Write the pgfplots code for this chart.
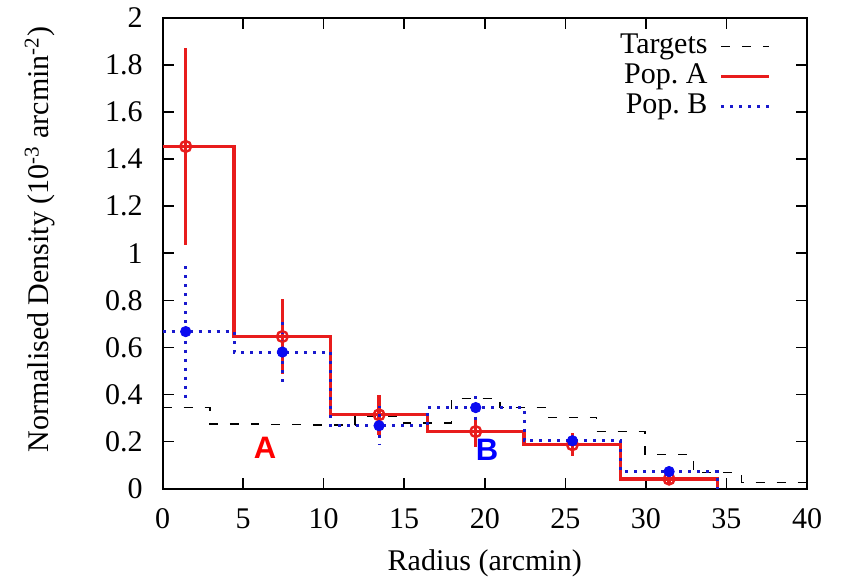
\documentclass[border=0pt]{standalone}
\usepackage{fontspec}
\setmainfont{Liberation Serif}
\newfontfamily\timesfont{Liberation Serif}
\newfontfamily\arialfont{Liberation Sans}
\usepackage{pgfplots}
\pgfplotsset{compat=1.18}
\usepackage{pgfplotstable}

\definecolor{popA}{RGB}{232,28,28}
\definecolor{popB}{RGB}{25,25,205}
\definecolor{popBmark}{RGB}{10,10,240}

% Target density, 3 arcmin bins (left edge, value)
\pgfplotstableread{
x y
0     0.345
2.94  0.274
5.94  0.272
8.94  0.270
11.94 0.307
14.94 0.278
17.94 0.383
20.94 0.345
23.94 0.303
26.94 0.243
29.94 0.144
32.94 0.067
35.94 0.026
40    0.026
}\targets

% Population A, 6 arcmin bins (left edge, value)
\pgfplotstableread{
x y
0     1.454
4.44  0.646
10.44 0.313
16.44 0.242
22.44 0.186
28.44 0.040
34.44 0.040
34.44 0
}\popAsteps

\pgfplotstableread{
x y ey
1.44  1.454 0.420
7.44  0.646 0.160
13.44 0.313 0.085
19.44 0.242 0.064
25.44 0.186 0.048
31.44 0.040 0.020
}\popApts

% Population B, 6 arcmin bins (left edge, value)
\pgfplotstableread{
x y
0     0.667
4.44  0.580
10.44 0.267
16.44 0.344
22.44 0.203
28.44 0.072
34.44 0.072
34.44 0
}\popBsteps

\pgfplotstableread{
x y ey
1.44  0.667 0.290
7.44  0.580 0.145
13.44 0.267 0.082
19.44 0.344 0.072
25.44 0.203 0.033
31.44 0.072 0.015
}\popBpts

\newcommand\txtfont{\timesfont\fontsize{15}{18}\selectfont}

\begin{document}
\begin{tikzpicture}
\begin{axis}[
  name=ax,
  scale only axis,
  width=322.25pt, height=235.25pt,
  xmin=0, xmax=40, ymin=0, ymax=2,
  enlargelimits=false,
  xtick={0,5,...,40},
  ytick={0,0.2,...,2.01},
  yticklabels={0,0.2,0.4,0.6,0.8,1,1.2,1.4,1.6,1.8,2},
  tick align=inside,
  xtick pos=both, ytick pos=both,
  major tick length=5.5pt,
  axis line style={line width=1pt},
  tick style={line width=0.8pt, black},
  /pgf/number format/assume math mode=true,
  tick label style={font=\txtfont},
  yticklabel style={anchor=east, inner sep=0pt, xshift=-9.75pt},
  xticklabel style={anchor=north, inner sep=0pt, yshift=-9.75pt},
  label style={font=\txtfont},
  xlabel={Radius (arcmin)},
  ylabel={Normalised Density (10\textsuperscript{-3} arcmin\textsuperscript{-2})},
  xlabel style={at={(axis description cs:0.5,-0.158)}, anchor=center},
  ylabel style={at={(axis description cs:-0.19,0.529)}, anchor=center},
  legend plot pos=right,
  legend cell align=right,
  legend style={
    at={(axis cs:37.77,1.94)}, anchor=north east,
    draw=none, fill=none, inner sep=0pt,
    font=\txtfont,
    nodes={inner sep=0pt, text height=10.5pt, text depth=3.5pt},
    column sep=6pt, row sep=1pt,
  },
  legend image code/.code={\draw[#1] (0pt,0pt) -- (24pt,0pt);},
]
\addplot[const plot, black, line width=0.7pt, dash pattern=on 4.5pt off 6pt]
  table[x=x, y=y] {\targets};
\addlegendentry{Targets}

\addplot[const plot, popA, line width=1.6pt]
  table[x=x, y=y] {\popAsteps};
\addlegendentry{Pop.\ A}

\addplot[forget plot, only marks, mark=o, mark size=2.7pt, popA,
  mark options={line width=1.2pt},
  error bars/.cd, y dir=both, y explicit, error mark=none,
  error bar style={popA, line width=1.6pt}]
  table[x=x, y=y, y error=ey] {\popApts};

\addplot[const plot, popB, line width=1.5pt, line cap=butt, dash pattern=on 1.5pt off 3pt]
  table[x=x, y=y] {\popBsteps};
\addlegendentry{Pop.\ B}

\addplot[forget plot, only marks, mark=*, mark size=2.6pt, popBmark,
  error bars/.cd, y dir=both, y explicit, error mark=none,
  error bar style={popB, line width=1.5pt, line cap=butt, dash pattern=on 1.5pt off 3pt}]
  table[x=x, y=y, y error=ey] {\popBpts};

\node[text=red, font=\arialfont\bfseries\fontsize{15.5}{18}\selectfont] at (axis cs:6.36,0.175) {A};
\node[text=blue, font=\arialfont\bfseries\fontsize{15.5}{18}\selectfont] at (axis cs:20.15,0.165) {B};

\coordinate (sw) at (rel axis cs:0,0);
\coordinate (ne) at (rel axis cs:1,1);
\end{axis}
\pgfresetboundingbox
\path[use as bounding box] ([shift={(-81.25pt,-47.25pt)}]sw) rectangle ([shift={(17.5pt,9pt)}]ne);
\end{tikzpicture}
\end{document}
